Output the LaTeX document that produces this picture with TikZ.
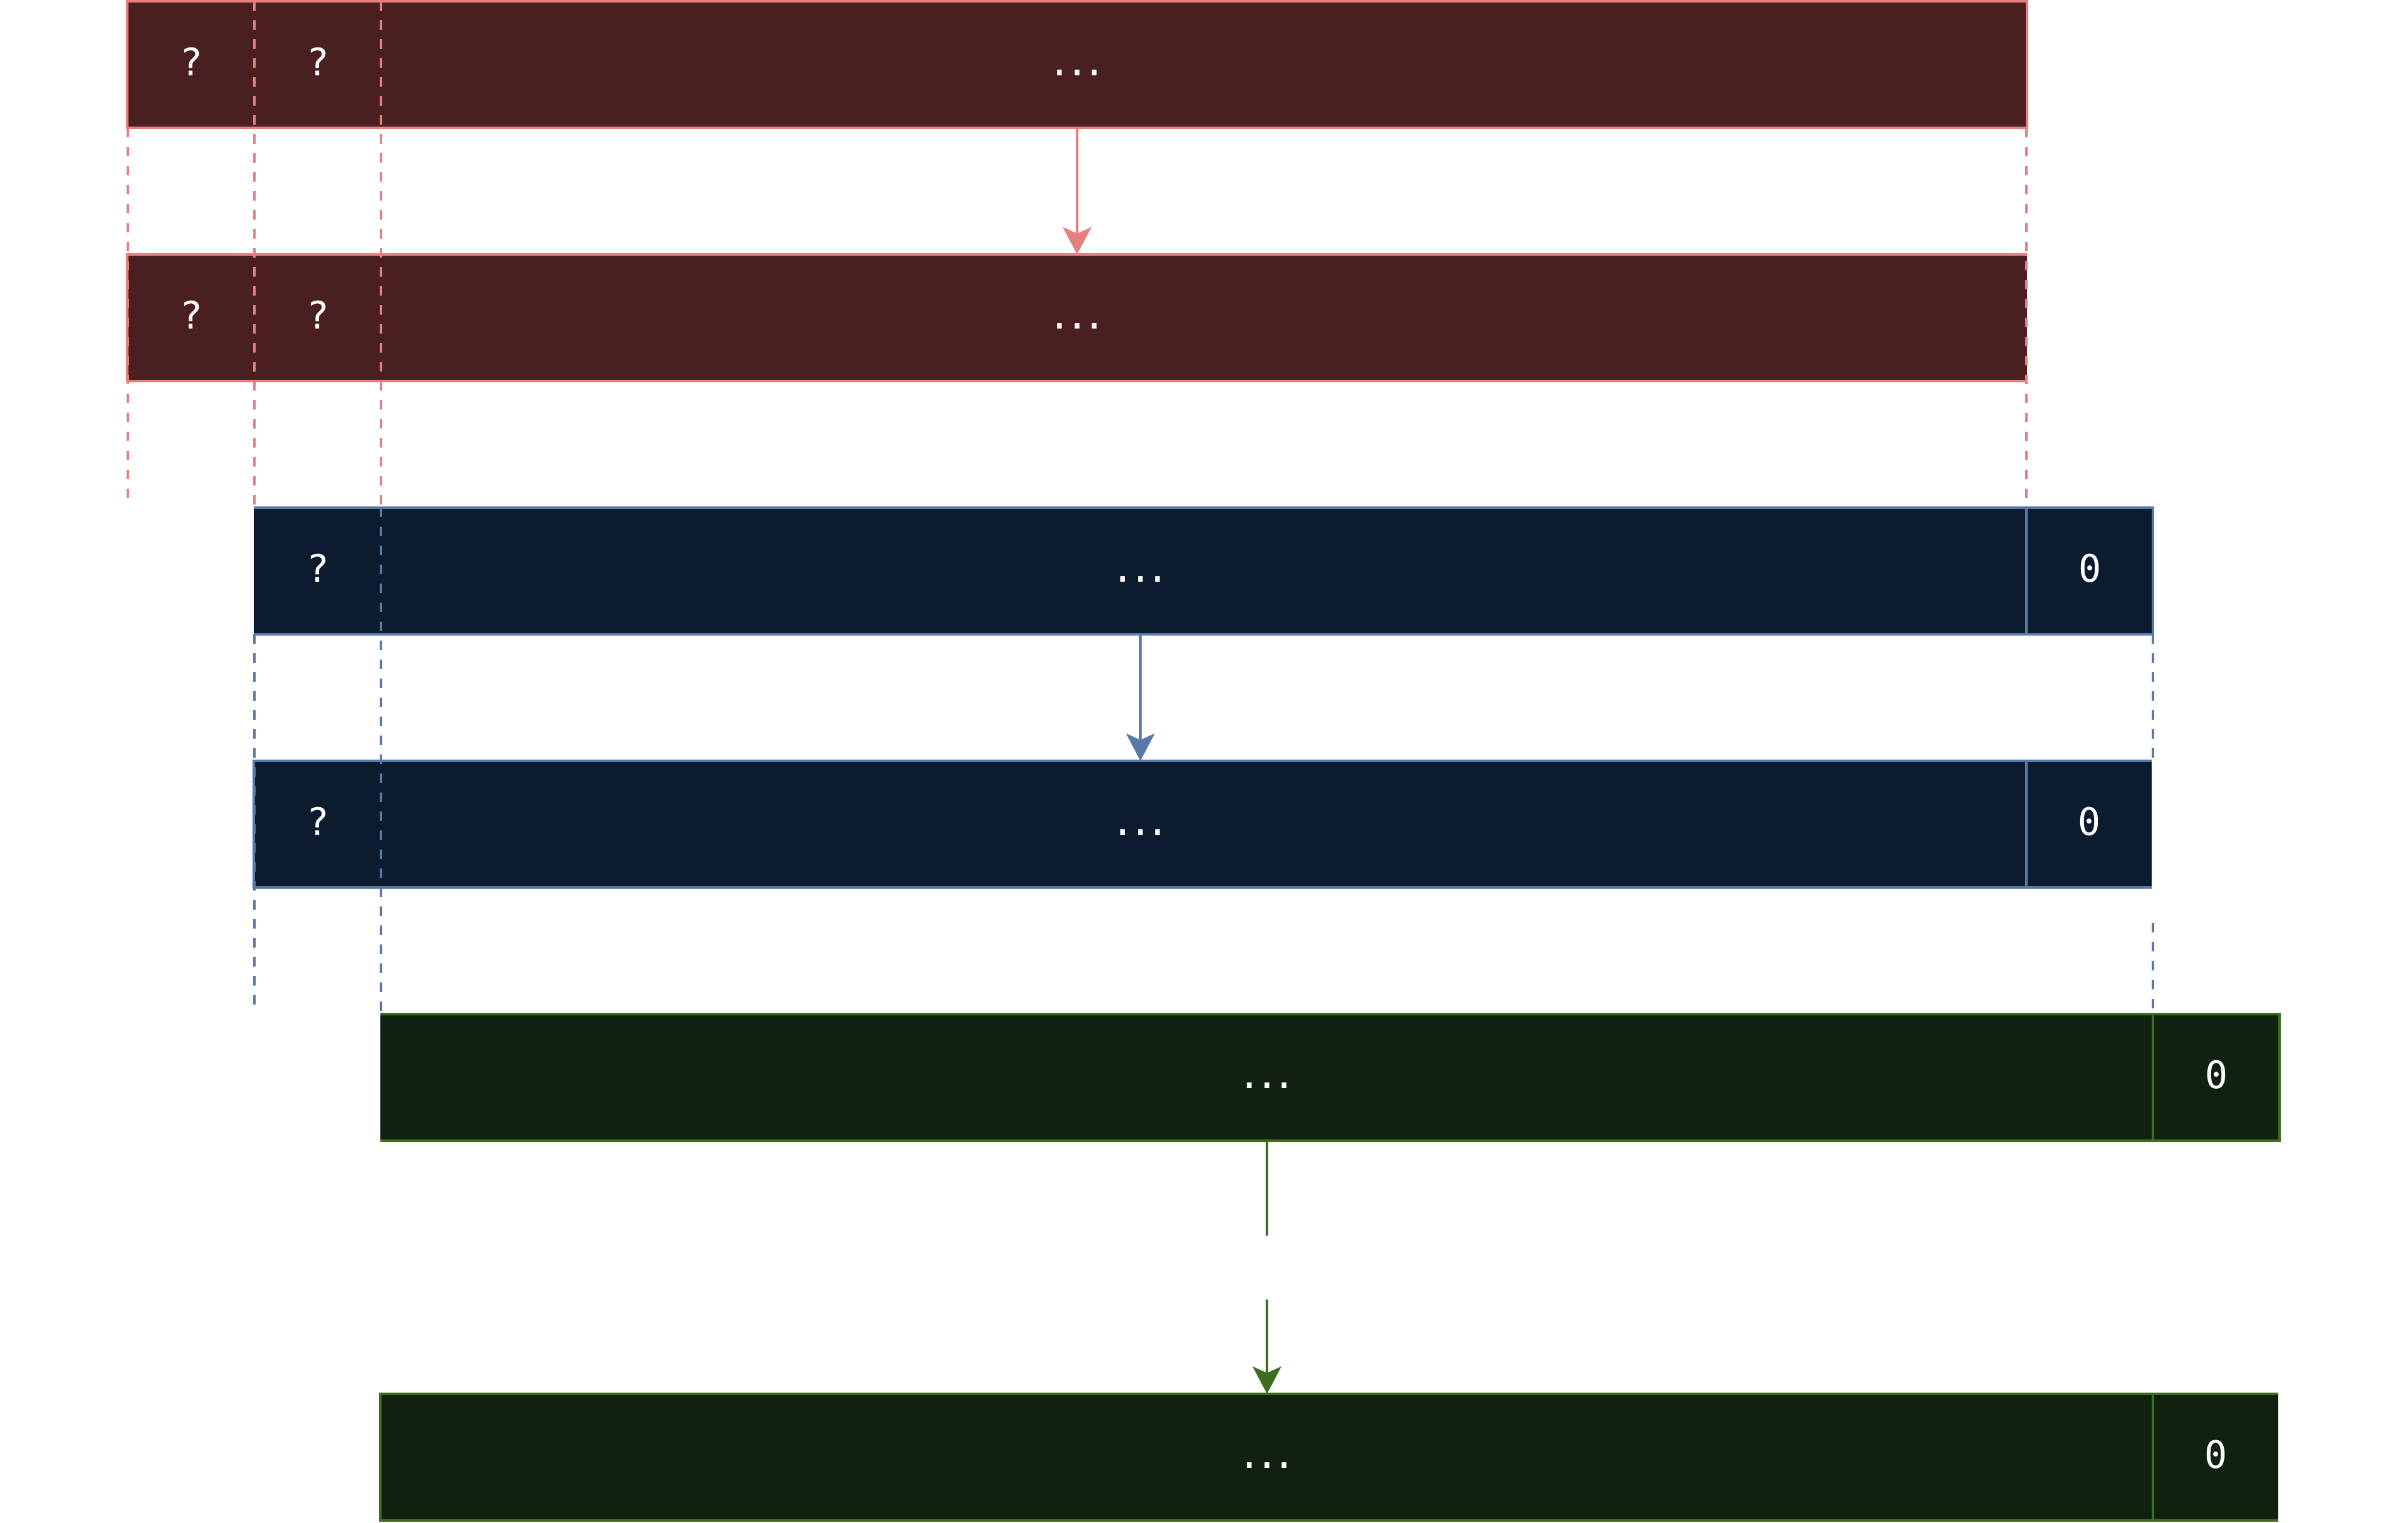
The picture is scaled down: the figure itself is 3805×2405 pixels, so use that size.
\documentclass[tikz,border=0pt]{standalone}
\usepackage{fontspec}
\newfontfamily\monof{DejaVu Sans Mono}
\usetikzlibrary{arrows.meta}
\definecolor{redfill}{HTML}{4A1F1F}
\definecolor{redline}{HTML}{E6807E}
\definecolor{bluefill}{HTML}{0C1B2E}
\definecolor{blueline}{HTML}{5779AC}
\definecolor{greenfill}{HTML}{10220F}
\definecolor{greenline}{HTML}{3D6E1F}
\newcommand{\mydots}{.\kern-2.5pt.\kern-2.5pt.}
\begin{document}
\begin{tikzpicture}[x=0.01cm,y=-0.01cm,line width=0.045cm,
  cell/.style={rectangle,inner sep=0pt,outer sep=0pt,minimum height=2cm,
    text=white,font=\monof\fontsize{17}{20}\selectfont,text height=10.2pt,text depth=0pt},
  lbl/.style={inner sep=0pt,outer sep=0pt,text=white,
    font=\monof\fontsize{17}{20}\selectfont,text height=10.2pt,text depth=0pt},
  reddash/.style={draw=redline,dash pattern=on 0.15cm off 0.15cm},
  bluedash/.style={draw=blueline,dash pattern=on 0.15cm off 0.15cm},
  tip/.style={-{Stealth[length=0.43cm,width=0.45cm,inset=0.1cm]}}]
\useasboundingbox (0,0) rectangle (3805,2405);

% row 1 (red)
\node[cell,fill=redfill,draw=redline,minimum width=30cm] (r1) at (1702,102) {\mydots};
\node[lbl] (r1q1) at (302,102) {?};
\node[lbl] (r1q2) at (502,102) {?};

% row 2 (red)
\node[cell,fill=redfill,minimum width=30cm] (r2) at (1702,502) {\mydots};
\draw[redline] (r2.north east) -- (r2.north west) -- (r2.south west) -- (r2.south east);
\node[lbl] (r2q1) at (302,502) {?};
\node[lbl] (r2q2) at (502,502) {?};

% row 3 (blue)
\node[cell,fill=bluefill,minimum width=28cm] (r3) at (1802,902) {\mydots};
\node[cell,fill=bluefill,draw=blueline,minimum width=2cm] (r3z) at (3302,902) {0};
\draw[blueline] (r3.north west) -- (r3.north east) (r3.south west) -- (r3.south east);
\node[lbl] (r3q) at (502,902) {?};

% row 4 (blue)
\node[cell,fill=bluefill,minimum width=28cm] (r4) at (1802,1302) {\mydots};
\node[cell,fill=bluefill,minimum width=1.98cm] (r4z) at (3301,1302) {0};
\draw[blueline] (r4.north east) -- (r4.north west) -- (r4.south west) -- (r4.south east);
\draw[blueline] (r4z.north east) -- (r4z.north west) -- (r4z.south west) -- (r4z.south east);
\node[lbl] (r4q) at (502,1302) {?};

% row 5 (green)
\node[cell,fill=greenfill,minimum width=28cm] (r5) at (2002,1702) {\mydots};
\node[cell,fill=greenfill,draw=greenline,minimum width=2cm] (r5z) at (3502,1702) {0};
\draw[greenline] (r5.north west) -- (r5.north east) (r5.south west) -- (r5.south east);

% row 6 (green)
\node[cell,fill=greenfill,minimum width=28cm] (r6) at (2002,2302) {\mydots};
\node[cell,fill=greenfill,minimum width=1.98cm] (r6z) at (3501,2302) {0};
\draw[greenline] (r6.north east) -- (r6.north west) -- (r6.south west) -- (r6.south east);
\draw[greenline] (r6z.north east) -- (r6z.north west) -- (r6z.south west) -- (r6z.south east);

% red guide lines
\draw[reddash] (202,202) -- (202,802);
\draw[reddash] (402,2) -- (402,802);
\draw[reddash] (602,2) -- (602,802);
\draw[reddash] (3202,202) -- (3202,802);

% blue guide lines
\draw[bluedash] (402,1002) -- (402,1602);
\draw[bluedash] (602,802) -- (602,1602);
\draw[bluedash] (3402,1002) -- (3402,1202);
\draw[bluedash] (3402,1458) -- (3402,1602);

% arrows
\draw[redline,tip] (r1.south) -- (r1.south |- r2.north);
\draw[blueline,tip] (r3.south) -- (r3.south |- r4.north);
\coordinate (g1) at (2002,1952);
\coordinate (g2) at (2002,2053);
\draw[greenline] (r5.south) -- (g1);
\draw[greenline,tip] (g2) -- (g2 |- r6.north);
\end{tikzpicture}
\end{document}
